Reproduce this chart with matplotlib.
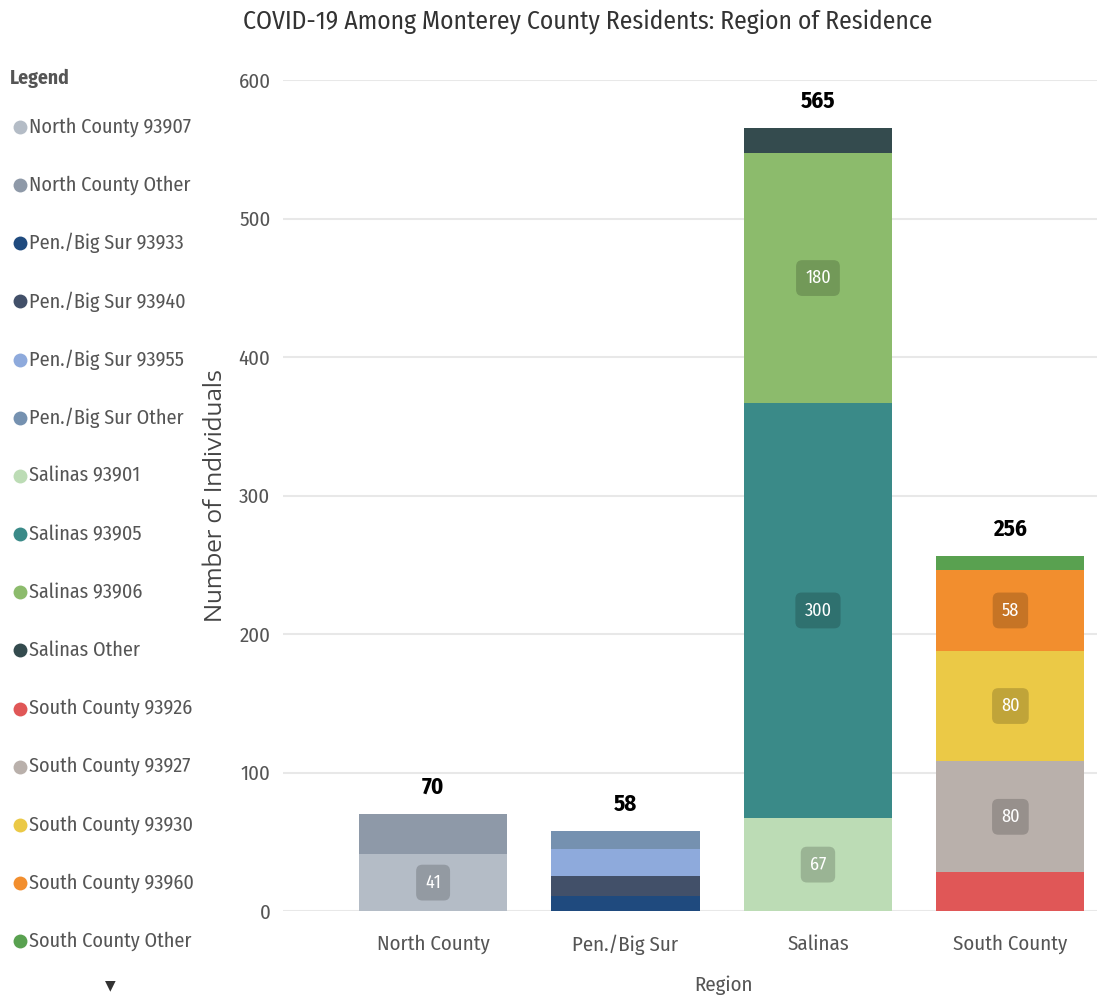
import matplotlib.pyplot as plt
from matplotlib.lines import Line2D
import numpy as np

plt.rcParams['font.family'] = ['Fira Sans Condensed', 'DejaVu Sans']

# data
regions = ["North County", "Pen./Big Sur", "Salinas", "South County"]
series = ["North County 93907", "North County Other",
          "Pen./Big Sur 93933", "Pen./Big Sur 93940", "Pen./Big Sur 93955", "Pen./Big Sur Other",
          "Salinas 93901", "Salinas 93905", "Salinas 93906", "Salinas Other",
          "South County 93926", "South County 93927", "South County 93930",
          "South County 93960", "South County Other"]
series_region = [0, 0, 1, 1, 1, 1, 2, 2, 2, 2, 3, 3, 3, 3, 3]
series_values = [41, 29, 11, 14, 20, 13, 67, 300, 180, 18, 28, 80, 80, 58, 10]
series_show_label = [True, False, False, False, False, False, True, True, True, False,
                     False, True, True, True, False]
colors = ["#b4bcc6", "#8e99a8", "#1f4a7e", "#425069", "#8eaadc", "#7591b0",
          "#bcdcb5", "#3a8a88", "#8cbb6c", "#344b4e",
          "#e05757", "#b9b0ab", "#ebc946", "#f28e2e", "#59a150"]

W, H = 1097, 1002
fig = plt.figure(figsize=(W / 100, H / 100), dpi=100)
ax = fig.add_axes([283 / W, 1 - 911 / H, (W - 283) / W, (911 - 80) / H])

x = np.arange(len(regions))
bottoms = np.zeros(len(regions))
for name, reg, val, col, show in zip(series, series_region, series_values, colors, series_show_label):
    ax.bar(reg, val, width=0.77, bottom=bottoms[reg], color=col, zorder=3)
    if show:
        ax.text(reg, bottoms[reg] + val / 2, str(val), ha='center', va='center',
                color='white', fontsize=13, zorder=4,
                bbox=dict(boxstyle='round,pad=0.5,rounding_size=0.35',
                          facecolor='black', alpha=0.18, edgecolor='none'))
    bottoms[reg] += val

for xi, tot in zip(x, bottoms):
    ax.text(xi, tot + 11, str(int(tot)), ha='center', va='bottom',
            fontsize=16.5, fontweight='bold', color='black')

ax.set_ylim(0, 600)
ax.set_xlim(-0.78, 3.45)
ax.set_yticks(range(0, 601, 100))
ax.grid(axis='y', color='#e8e8e8', linewidth=1.5, zorder=0)
for s in ax.spines.values():
    s.set_visible(False)
ax.tick_params(length=0, labelsize=15, colors='#555555')
ax.tick_params(axis='y', pad=9)
ax.set_xticks(x)
ax.set_xticklabels(regions, fontsize=15)
ax.tick_params(axis='x', pad=17)
ax.set_xlabel("Region", fontsize=15, color='#555555')
ax.xaxis.set_label_coords((723 - 283) / (W - 283), -(985 - 911) / (911 - 80))
ax.xaxis.label.set_va('center')
ax.set_ylabel("Number of Individuals", fontsize=16.5, color='#444444',
              family=['Encode Sans Expanded', 'DejaVu Sans'])
ax.yaxis.set_label_coords(-(283 - 215) / (W - 283), 0.5)
ax.yaxis.label.set_va('center')

fig.text(588 / W, 1 - 22 / H, "COVID-19 Among Monterey County Residents: Region of Residence",
         ha='center', va='center', fontsize=18.4, color='#333333')

# legend
fig.text(10 / W, 1 - 78 / H, "Legend", ha='left', va='center',
         fontsize=14, fontweight='bold', color='#555555')
for i, (name, col) in enumerate(zip(series, colors)):
    yy = 1 - (127 + i * 58.15) / H
    fig.add_artist(Line2D([20 / W], [yy], marker='o', linestyle='none', markersize=10,
                          markerfacecolor=col, markeredgecolor='none'))
    fig.text(29 / W, yy, name, ha='left', va='center', fontsize=14.5, color='#555555')
fig.text(110 / W, 1 - 985 / H, "\u25BC", ha='center', va='center', fontsize=10,
         color='#333333', family='DejaVu Sans')

fig.savefig("out.png", dpi=100)
